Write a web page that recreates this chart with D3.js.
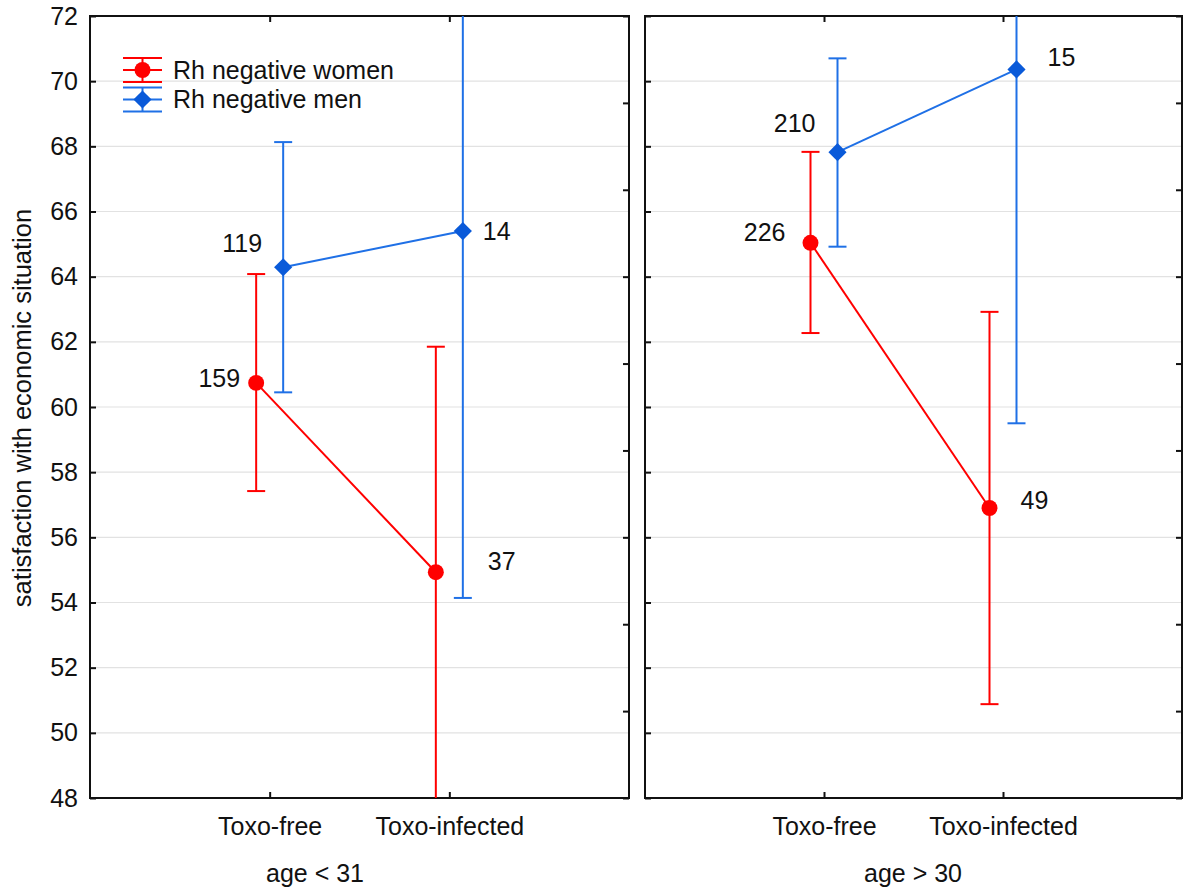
<!DOCTYPE html>
<html>
<head>
<meta charset="utf-8">
<script src="https://cdn.jsdelivr.net/npm/d3@7"></script>
<style>
  body { margin: 0; background: #fff; }
</style>
</head>
<body>
<svg id="chart" width="1184" height="892"></svg>
<script>
// data (means with error bar ends, group sizes)
const categories = ['Toxo-free', 'Toxo-infected'];
const ageGroups = ['age < 31', 'age > 30'];
const seriesNames = ['Rh negative women', 'Rh negative men'];

// [panel][category]
const womenMean = [[60.74, 54.93], [65.04, 56.9]];
const womenLow = [[57.42, 47.8], [62.27, 50.88]];
const womenHigh = [[64.08, 61.85], [67.83, 62.92]];
const womenN = [[159, 37], [226, 49]];

const menMean = [[64.29, 65.4], [67.82, 70.36]];
const menLow = [[60.45, 54.14], [64.92, 59.5]];
const menHigh = [[68.13, 76.7], [70.7, 81.2]];
const menN = [[119, 14], [210, 15]];

// label placement next to each point: [anchor, dx, dy]
const womenLabelPos = [[['end', -16, -5], ['start', 52, -11]], [['end', -25, -11], ['start', 31, -8]]];
const menLabelPos = [[['end', -21, -24], ['start', 20, 0]], [['end', -22, -29], ['start', 31, -12]]];

const FONT = "'Liberation Sans', Arial, sans-serif";
const FS = 25;
const yTop = 16, yBottom = 798;
const panelX = [[90, 629], [645, 1182]];
const lineColor = ['#ff0000', '#1f70e6'];
const markColor = ['#ff0000', '#0a5ad9'];
const shift = [-13.5, 13.5];

const svg = d3.select('#chart');
const y = d3.scaleLinear().domain([48, 72]).range([yBottom, yTop]);
const yAlt = d3.scaleLinear().domain([0, 9]).range([yBottom, yTop]);

const circleSym = d3.symbol().type(d3.symbolCircle).size(200);
const squareSym = d3.symbol().type(d3.symbolSquare).size(165);

function drawPanel(p) {
  var x0 = panelX[p][0], x1 = panelX[p][1];
  var x = d3.scalePoint().domain(categories).range([x0, x1]).padding(1);

  svg.append('clipPath').attr('id', 'clip' + p)
    .append('rect')
    .attr('x', x0).attr('y', yTop)
    .attr('width', x1 - x0).attr('height', yBottom - yTop);

  var g = svg.append('g');

  // gridlines
  g.append('g')
    .selectAll('line')
    .data(y.ticks(12).filter((v) => v > 48 && v < 72))
    .enter()
    .append('line')
    .attr('x1', x0).attr('x2', x1)
    .attr('y1', (d) => y(d)).attr('y2', (d) => y(d))
    .attr('stroke', '#e2e2e2')
    .attr('stroke-width', 1.2);

  // left axis (labels only on first panel)
  var ax = g.append('g')
    .attr('transform', 'translate(' + x0 + ',0)')
    .call(d3.axisLeft(y).ticks(12).tickSize(-6).tickPadding(12)
      .tickFormat(p === 0 ? d3.format('d') : ''));
  // right axis
  var ar = g.append('g')
    .attr('transform', 'translate(' + x1 + ',0)')
    .call(d3.axisLeft(yAlt).ticks(9).tickSize(6).tickFormat(''));
  // top axis
  var at = g.append('g')
    .attr('transform', 'translate(0,' + yTop + ')')
    .call(d3.axisBottom(x).tickSize(6).tickFormat(''));
  // bottom axis with category names
  var ab = g.append('g')
    .attr('transform', 'translate(0,' + yBottom + ')')
    .call(d3.axisBottom(x).tickSize(-6).tickPadding(19));

  [ax, ar, at, ab].forEach((a) => {
    a.select('.domain').remove();
    a.selectAll('line').attr('stroke', '#111').attr('stroke-width', 2);
    a.attr('font-family', FONT).attr('font-size', FS);
    a.selectAll('text').attr('fill', '#111');
  });

  // frame
  g.append('rect')
    .attr('x', x0).attr('y', yTop)
    .attr('width', x1 - x0).attr('height', yBottom - yTop)
    .attr('fill', 'none')
    .attr('stroke', '#111')
    .attr('stroke-width', 2);

  var groups = [
    { mean: womenMean[p], low: womenLow[p], high: womenHigh[p], n: womenN[p], pos: womenLabelPos[p] },
    { mean: menMean[p], low: menLow[p], high: menHigh[p], n: menN[p], pos: menLabelPos[p] },
  ];

  groups.forEach((grp, s) => {
    var pts = categories.map((c, i) => ({
      x: x(c) + shift[s],
      m: grp.mean[i], lo: grp.low[i], hi: grp.high[i], n: grp.n[i], pos: grp.pos[i],
    }));
    var cg = g.append('g').attr('clip-path', 'url(#clip' + p + ')');

    // error bars
    cg.selectAll('line.bar')
      .data(pts)
      .enter()
      .append('line')
      .attr('x1', (d) => d.x).attr('x2', (d) => d.x)
      .attr('y1', (d) => y(d.lo)).attr('y2', (d) => y(d.hi))
      .attr('stroke', lineColor[s]).attr('stroke-width', 2);

    var caps = [];
    pts.forEach((d) => { caps.push([d.x, d.lo]); caps.push([d.x, d.hi]); });
    cg.selectAll('line.cap')
      .data(caps)
      .enter()
      .append('line')
      .attr('x1', (d) => d[0] - 9).attr('x2', (d) => d[0] + 9)
      .attr('y1', (d) => y(d[1])).attr('y2', (d) => y(d[1]))
      .attr('stroke', lineColor[s]).attr('stroke-width', 2);

    // connecting line
    cg.append('path')
      .attr('d', d3.line().x((d) => d.x).y((d) => y(d.m))(pts))
      .attr('fill', 'none')
      .attr('stroke', lineColor[s])
      .attr('stroke-width', 2);

    // markers
    cg.selectAll('path.mk')
      .data(pts)
      .enter()
      .append('path')
      .attr('d', s === 0 ? circleSym() : squareSym())
      .attr('transform', (d) => 'translate(' + d.x + ',' + y(d.m) + ')' + (s === 1 ? ' rotate(45)' : ''))
      .attr('fill', markColor[s]);

    // group size labels
    g.selectAll(null)
      .data(pts)
      .enter()
      .append('text')
      .attr('x', (d) => d.x + d.pos[1])
      .attr('y', (d) => y(d.m) + d.pos[2])
      .attr('text-anchor', (d) => d.pos[0])
      .attr('dy', '0.35em')
      .attr('font-family', FONT)
      .attr('font-size', FS)
      .attr('fill', '#111')
      .text((d) => d.n);
  });

  // age group caption
  svg.append('text')
    .attr('x', p === 0 ? 315 : 913)
    .attr('y', 873)
    .attr('dy', '0.35em')
    .attr('text-anchor', 'middle')
    .attr('font-family', FONT)
    .attr('font-size', FS)
    .attr('fill', '#111')
    .text(ageGroups[p]);
}

drawPanel(0);
drawPanel(1);

// y axis title
svg.append('text')
  .attr('transform', 'translate(22,408) rotate(-90)')
  .attr('dy', '0.35em')
  .attr('text-anchor', 'middle')
  .attr('font-family', FONT)
  .attr('font-size', 25.5)
  .attr('fill', '#111')
  .text('satisfaction with economic situation');

// legend
var lg = svg.append('g').attr('transform', 'translate(123,70)');
seriesNames.forEach((name, s) => {
  var row = lg.append('g').attr('transform', 'translate(0,' + s * 29.5 + ')');
  [-12, 0, 12].forEach((dy) => {
    row.append('line')
      .attr('x1', 0).attr('x2', 39)
      .attr('y1', dy).attr('y2', dy)
      .attr('stroke', lineColor[s]).attr('stroke-width', 2);
  });
  row.append('line')
    .attr('x1', 19.5).attr('x2', 19.5)
    .attr('y1', -12).attr('y2', 12)
    .attr('stroke', lineColor[s]).attr('stroke-width', 2);
  row.append('path')
    .attr('d', s === 0 ? circleSym() : squareSym())
    .attr('transform', 'translate(19.5,0)' + (s === 1 ? ' rotate(45)' : ''))
    .attr('fill', markColor[s]);
  row.append('text')
    .attr('x', 50)
    .attr('dy', '0.35em')
    .attr('font-family', FONT)
    .attr('font-size', FS)
    .attr('fill', '#111')
    .text(name);
});
</script>
</body>
</html>
